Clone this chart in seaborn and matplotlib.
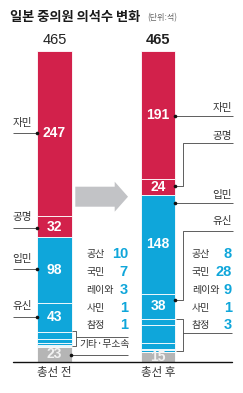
import numpy as np
import pandas as pd
import matplotlib
matplotlib.use("Agg")
import matplotlib.pyplot as plt
import seaborn as sns
from matplotlib.patches import Polygon

# ---------------- data ----------------
periods = ["총선 전", "총선 후"]
parties = ["자민", "공명", "입민", "유신", "공산", "국민", "레이와", "사민", "참정", "기타·무소속"]
before = [247, 32, 98, 43, 10, 7, 3, 1, 1, 23]
after = [191, 24, 148, 38, 8, 28, 9, 1, 3, 15]
totals = [465, 465]
small_parties = ["공산", "국민", "레이와", "사민", "참정"]
title = "일본 중의원 의석수 변화"
unit = "(단위:석)"

RED = "#d2214b"
BLUE = "#0fa6da"
GRAY = "#b5b5b5"
colors = [RED, RED, BLUE, BLUE, BLUE, BLUE, BLUE, BLUE, BLUE, GRAY]

sns.set_theme(style="white")
plt.rcParams['font.family'] = ['Noto Sans CJK KR', 'DejaVu Sans']
NUMF = ['Liberation Sans Narrow', 'Liberation Sans', 'DejaVu Sans']
KR = ['Noto Sans CJK KR', 'DejaVu Sans']

W, H = 243, 393
fig = plt.figure(figsize=(W / 100, H / 100), dpi=100)
fig.patch.set_facecolor("white")
ax = fig.add_axes([0, 0, 1, 1])

# pixel geometry helpers (for annotations)
X0, DX = 54.5, 103.5
BASE, K = 362.0, 311.3 / 465


def px(x):
    return (x - X0) / DX


def py(y):
    return (BASE - y) / K


df = pd.DataFrame({
    "period": np.repeat(periods, len(parties)),
    "party": parties * 2,
    "seats": before + after,
})

for i, p in enumerate(parties):
    sub = df[df["party"] == p]
    bottoms = [sum(before[i + 1:]), sum(after[i + 1:])]
    sns.barplot(data=sub, x="period", y="seats", order=periods, color=colors[i],
                saturation=1, width=34.5 / DX, bottom=bottoms, errorbar=None,
                edgecolor="white", linewidth=0.6, ax=ax)

ax.set_xlim(px(0), px(W))
ax.set_ylim(py(H), py(0))
ax.axis("off")

# numbers inside bars
big_idx = [0, 1, 2, 3]
for j, vals in enumerate([before, after]):
    for i in big_idx:
        b = sum(vals[i + 1:])
        ax.text(j, b + vals[i] / 2, str(vals[i]), ha="center", va="center",
                color="white", fontsize=10, fontweight="bold", family=NUMF)
    ax.text(j, vals[-1] / 2, str(vals[-1]), ha="center", va="center",
            color="#f2f2f2", fontsize=10, fontweight="bold", family=NUMF)
    ax.text(j, totals[j] + 2 / K + 9 / K, str(totals[j]), ha="center", va="center",
            color="#222222", fontsize=10.5, fontweight="bold" if j == 1 else "normal",
            family=NUMF)

# title
ax.text(px(10), py(17.5), title, ha="left", va="center", fontsize=9.5,
        fontweight="bold", color="#1a1a1a", family=KR)
ax.text(px(147), py(18), unit, ha="left", va="center", fontsize=5.8,
        color="#666666", family=KR)

LC = "#444444"
LW = 0.6


def line(pts, **kw):
    xs = [px(a) for a, _ in pts]
    ys = [py(b) for _, b in pts]
    ax.plot(xs, ys, color=LC, lw=LW, solid_capstyle="butt", **kw)


def dot(x, y):
    ax.plot([px(x)], [py(y)], "o", color="#111111", ms=2.6, mec="none")


def label(x, y, s, ha="left", size=7.6):
    ax.text(px(x), py(y), s, ha=ha, va="center", fontsize=size, color="#333333", family=KR)


# left side labels (before)
for name, ty, ly in [("자민", 123, 133), ("공명", 217, 228), ("입민", 259, 269), ("유신", 306, 317)]:
    label(12.5, ty, name)
    line([(13, ly), (37, ly)])
    dot(37, ly)

# before: bracket for small parties
line([(72, 331.4), (75.5, 331.4), (75.5, 346), (72, 346)])
line([(75.5, 336.5), (128, 336.5)])
label(79, 344.5, parties[-1], size=7.0)
line([(70.5, 354.5), (128, 354.5)])
dot(70.5, 354.5)

rows = [254.5, 272, 289.5, 307.5, 325]
for k, name in enumerate(small_parties):
    i = parties.index(name)
    label(86.5, rows[k], name, size=7.2)
    ax.text(px(128), py(rows[k]), str(before[i]), ha="right", va="center", fontsize=10.5,
            fontweight="bold", color=BLUE, family=NUMF)
    label(192, rows[k], name, size=7.2)
    ax.text(px(232), py(rows[k]), str(after[i]), ha="right", va="center", fontsize=10.5,
            fontweight="bold", color=BLUE, family=NUMF)

# right side labels (after)
label(232, 108, "자민", ha="right")
line([(174.5, 116), (232.7, 116)])
dot(174.5, 116)
label(232, 136.5, "공명", ha="right")
line([(174.5, 185.7), (182.5, 185.7), (182.5, 143.3), (232.7, 143.3)])
dot(174.5, 185.7)
label(232, 195, "입민", ha="right")
line([(174.5, 203.3), (232.7, 203.3)])
dot(174.5, 203.3)
label(232, 221.5, "유신", ha="right")
line([(174.5, 300), (182.5, 300), (182.5, 230.7), (232.7, 230.7)])
dot(174.5, 300)
line([(175.5, 319.2), (182.5, 319.2), (182.5, 351), (175.5, 351)])
line([(182.5, 333), (232, 333)])

# arrow
arrow = [(75.3, 186.7), (114.7, 186.7), (114.7, 181.7), (128, 196.7),
         (114.7, 211.7), (114.7, 206.7), (75.3, 206.7)]
ax.add_patch(Polygon([(px(a), py(b)) for a, b in arrow], closed=True,
                     facecolor="#c2c3c6", edgecolor="none"))

# baseline and period labels
ax.plot([px(12.7), px(232)], [py(361.8), py(361.8)], color="#111111", lw=1.0)
for j, p in enumerate(periods):
    ax.text(j, py(372.5), p, ha="center", va="center", fontsize=8.3, color="#333333", family=KR)

fig.savefig("out.png", dpi=100, facecolor="white")
